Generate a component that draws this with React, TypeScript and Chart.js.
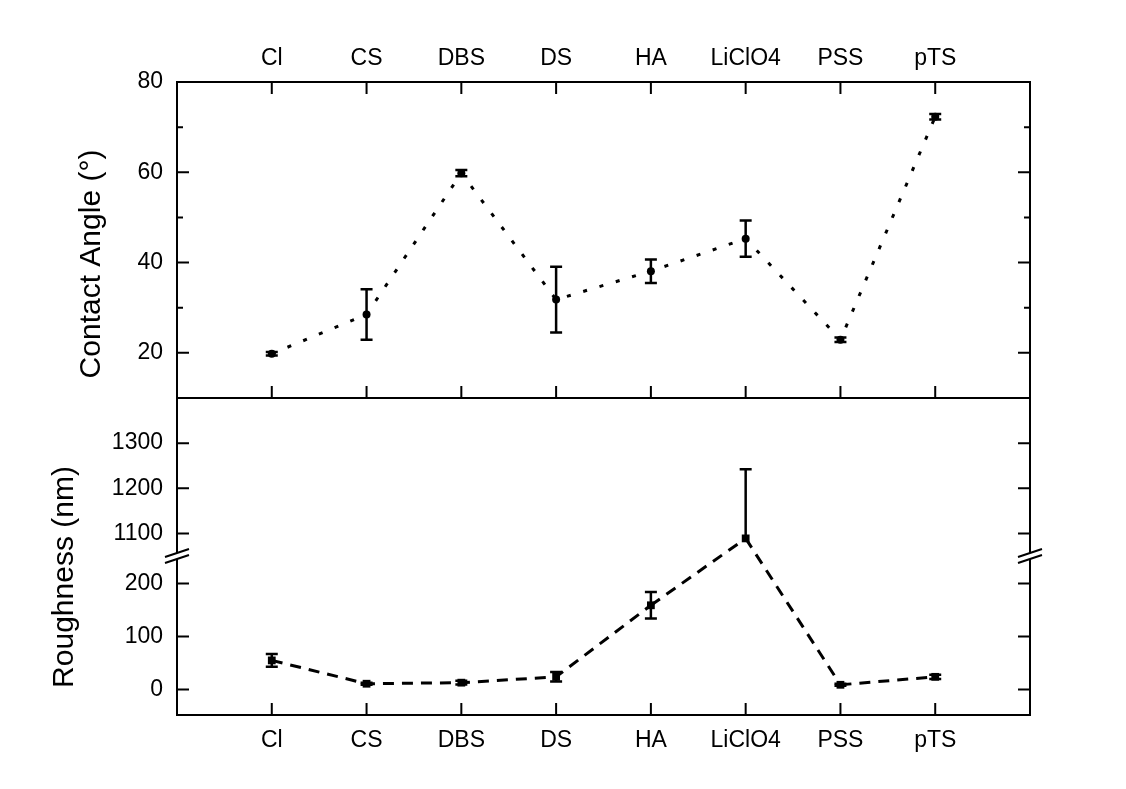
import React, { useEffect, useRef } from 'react';
import { Chart, registerables } from 'chart.js';

Chart.register(...registerables);

// ---------- data ----------
const categories = ['Cl', 'CS', 'DBS', 'DS', 'HA', 'LiClO4', 'PSS', 'pTS'];
const contactAngle = [19.8, 28.5, 59.8, 31.8, 38.1, 45.3, 22.9, 72.3];
const contactAngleErr = [0.4, 5.6, 0.7, 7.3, 2.6, 4.0, 0.5, 0.6];
const roughness = [55, 11, 13, 24, 159, 1089, 9, 24];
const roughnessErr = [12, 2, 3.5, 9, 25, 153, 2, 4];

const angleTicks = [20, 40, 60, 80];
const angleMinorTicks = [30, 50, 70];
const roughLowTicks = [0, 100, 200];
const roughHighTicks = [1100, 1200, 1300];
const angleRange = [10, 80];
const roughLowRange = [-48, 252];
const roughHighRange = [1050, 1400];
const xRange = [-1, 8];

const angleTitle = 'Contact Angle (°)';
const roughTitle = 'Roughness (nm)';

const FONT = "'Liberation Sans', Arial, Helvetica, sans-serif";
const TICK_FONT = { family: FONT, size: 23 };

const isHigh = (v: number) => v > roughLowRange[1];

function drawErr(ctx: CanvasRenderingContext2D, xp: number, scale: any, v: number, e: number) {
  const y0 = scale.getPixelForValue(v);
  for (const end of [v + e, v - e]) {
    if (end < scale.min || end > scale.max) continue;
    const ye = scale.getPixelForValue(end);
    ctx.beginPath();
    ctx.moveTo(xp, y0);
    ctx.lineTo(xp, ye);
    ctx.moveTo(xp - 6, ye);
    ctx.lineTo(xp + 6, ye);
    ctx.stroke();
  }
}

const panelPlugin = {
  id: 'panels',
  beforeDatasetsDraw(chart: any) {
    const { ctx, scales } = chart;
    const x = scales.x, lo = scales.yLow, hi = scales.yHigh;
    ctx.save();
    ctx.strokeStyle = '#000';
    ctx.lineWidth = 3;
    ctx.setLineDash([11, 8]);
    for (let i = 0; i < roughness.length - 1; i++) {
      const a = roughness[i], b = roughness[i + 1];
      if (isHigh(a) !== isHigh(b)) {
        const ya = (isHigh(a) ? hi : lo).getPixelForValue(a);
        const yb = (isHigh(b) ? hi : lo).getPixelForValue(b);
        ctx.beginPath();
        ctx.moveTo(x.getPixelForValue(i), ya);
        ctx.lineTo(x.getPixelForValue(i + 1), yb);
        ctx.stroke();
      }
    }
    ctx.restore();
  },
  afterDatasetsDraw(chart: any) {
    const { ctx, scales } = chart;
    const x = scales.x;
    ctx.save();
    ctx.strokeStyle = '#000';
    ctx.lineWidth = 2.5;
    ctx.setLineDash([]);
    contactAngle.forEach((v, i) => drawErr(ctx, x.getPixelForValue(i), scales.yAngle, v, contactAngleErr[i]));
    roughness.forEach((v, i) =>
      drawErr(ctx, x.getPixelForValue(i), isHigh(v) ? scales.yHigh : scales.yLow, v, roughnessErr[i])
    );
    ctx.restore();
  },
  afterDraw(chart: any) {
    const { ctx, scales, chartArea } = chart;
    const { left, right } = chartArea;
    const x = scales.x, ya = scales.yAngle, hi = scales.yHigh, lo = scales.yLow;
    ctx.save();
    ctx.strokeStyle = '#000';
    ctx.setLineDash([]);
    ctx.lineWidth = 2;
    // frames
    ctx.strokeRect(left, ya.top, right - left, ya.bottom - ya.top);
    ctx.strokeRect(left, hi.top, right - left, lo.bottom - hi.top);
    // x ticks (inward)
    const MAJ = 12, MIN = 6;
    ctx.beginPath();
    categories.forEach((_, i) => {
      const xp = x.getPixelForValue(i);
      ctx.moveTo(xp, ya.top); ctx.lineTo(xp, ya.top + MAJ);
      ctx.moveTo(xp, ya.bottom); ctx.lineTo(xp, ya.bottom - MAJ);
      ctx.moveTo(xp, lo.bottom); ctx.lineTo(xp, lo.bottom - MAJ);
    });
    // y ticks left and right
    const yTick = (scale: any, v: number, len: number) => {
      const yp = scale.getPixelForValue(v);
      ctx.moveTo(left, yp); ctx.lineTo(left + len, yp);
      ctx.moveTo(right, yp); ctx.lineTo(right - len, yp);
    };
    angleTicks.forEach((v) => yTick(ya, v, MAJ));
    angleMinorTicks.forEach((v) => yTick(ya, v, MIN));
    roughHighTicks.forEach((v) => yTick(hi, v, MAJ));
    roughLowTicks.forEach((v) => yTick(lo, v, MAJ));
    ctx.stroke();
    // break marks
    const yb = lo.top;
    for (const xb of [left, right]) {
      ctx.fillStyle = '#fff';
      ctx.beginPath();
      ctx.moveTo(xb - 12, yb + 1);
      ctx.lineTo(xb + 12, yb - 7);
      ctx.lineTo(xb + 12, yb - 1);
      ctx.lineTo(xb - 12, yb + 7);
      ctx.closePath();
      ctx.fill();
      ctx.beginPath();
      ctx.moveTo(xb - 12, yb + 1);
      ctx.lineTo(xb + 12, yb - 7);
      ctx.moveTo(xb - 12, yb + 7);
      ctx.lineTo(xb + 12, yb - 1);
      ctx.stroke();
    }
    // axis titles
    ctx.fillStyle = '#000';
    ctx.font = `30px ${FONT}`;
    ctx.textAlign = 'center';
    ctx.textBaseline = 'middle';
    ctx.save();
    ctx.translate(92, 264);
    ctx.rotate(-Math.PI / 2);
    ctx.fillText(angleTitle, 0, 0);
    ctx.restore();
    ctx.save();
    ctx.translate(65, 577);
    ctx.rotate(-Math.PI / 2);
    ctx.fillText(roughTitle, 0, 0);
    ctx.restore();
    ctx.restore();
  },
};

const xAxis = (position: 'top' | 'bottom', padding: number, height: number) => ({
  type: 'linear' as const,
  position,
  min: xRange[0],
  max: xRange[1],
  grid: { display: false, drawTicks: false },
  border: { display: false },
  afterBuildTicks: (s: any) => {
    s.ticks = categories.map((_, i) => ({ value: i }));
  },
  afterFit: (s: any) => {
    s.height = height;
  },
  ticks: {
    callback: (v: any) => categories[v] ?? '',
    font: TICK_FONT,
    color: '#000',
    padding,
    maxRotation: 0,
    minRotation: 0,
    autoSkip: false,
  },
});

const yAxis = (range: number[], ticks: number[], weight: number) => ({
  type: 'linear' as const,
  position: 'left' as const,
  stack: 'panels',
  stackWeight: weight,
  min: range[0],
  max: range[1],
  grid: { display: false, drawTicks: false },
  border: { display: false },
  afterBuildTicks: (s: any) => {
    s.ticks = ticks.map((v) => ({ value: v }));
  },
  afterFit: (s: any) => {
    s.width = 177;
  },
  ticks: {
    font: TICK_FONT,
    color: '#000',
    padding: 14,
    callback: (v: any) => String(v),
  },
});

export default function App() {
  const ref = useRef<HTMLCanvasElement>(null);

  useEffect(() => {
    if (!ref.current) return;
    const angleData = contactAngle.map((v, i) => ({ x: i, y: v }));
    const lowData = roughness.map((v, i) => ({ x: i, y: isHigh(v) ? null : v }));
    const highData = roughness.map((v, i) => ({ x: i, y: isHigh(v) ? v : null }));

    const chart = new Chart(ref.current, {
      type: 'line',
      data: {
        datasets: [
          {
            label: 'Contact Angle',
            data: angleData as any,
            yAxisID: 'yAngle',
            xAxisID: 'x',
            borderColor: '#000',
            backgroundColor: '#000',
            borderWidth: 3,
            borderDash: [4, 13],
            pointStyle: 'circle',
            pointRadius: 4,
            pointBorderWidth: 0,
            pointBackgroundColor: '#000',
            tension: 0,
          },
          {
            label: 'Roughness',
            data: lowData as any,
            yAxisID: 'yLow',
            xAxisID: 'x',
            borderColor: '#000',
            backgroundColor: '#000',
            borderWidth: 3,
            borderDash: [11, 8],
            pointStyle: 'rect',
            pointRadius: 5.5,
            pointBorderWidth: 0,
            pointBackgroundColor: '#000',
            spanGaps: false,
            tension: 0,
          },
          {
            label: 'Roughness (high)',
            data: highData as any,
            yAxisID: 'yHigh',
            xAxisID: 'x',
            borderColor: '#000',
            backgroundColor: '#000',
            borderWidth: 3,
            borderDash: [11, 8],
            pointStyle: 'rect',
            pointRadius: 5.5,
            pointBorderWidth: 0,
            pointBackgroundColor: '#000',
            spanGaps: false,
          },
        ],
      },
      options: {
        animation: false,
        responsive: false,
        devicePixelRatio: 1,
        layout: { padding: { left: 0, right: 96, top: 0, bottom: 0 } },
        plugins: { legend: { display: false }, tooltip: { enabled: false } },
        scales: {
          x: xAxis('bottom', 12, 74),
          x2: xAxis('top', 10, 82),
          yLow: yAxis(roughLowRange, roughLowTicks, 159),
          yHigh: yAxis(roughHighRange, roughHighTicks, 158),
          yAngle: yAxis(angleRange, angleTicks, 316),
        } as any,
      },
      plugins: [panelPlugin],
    });
    return () => chart.destroy();
  }, []);

  return (
    <div style={{ position: 'fixed', left: 0, top: 0, width: 1126, height: 789, background: '#fff' }}>
      <canvas ref={ref} width={1126} height={789} style={{ display: 'block', width: 1126, height: 789 }} />
    </div>
  );
}
